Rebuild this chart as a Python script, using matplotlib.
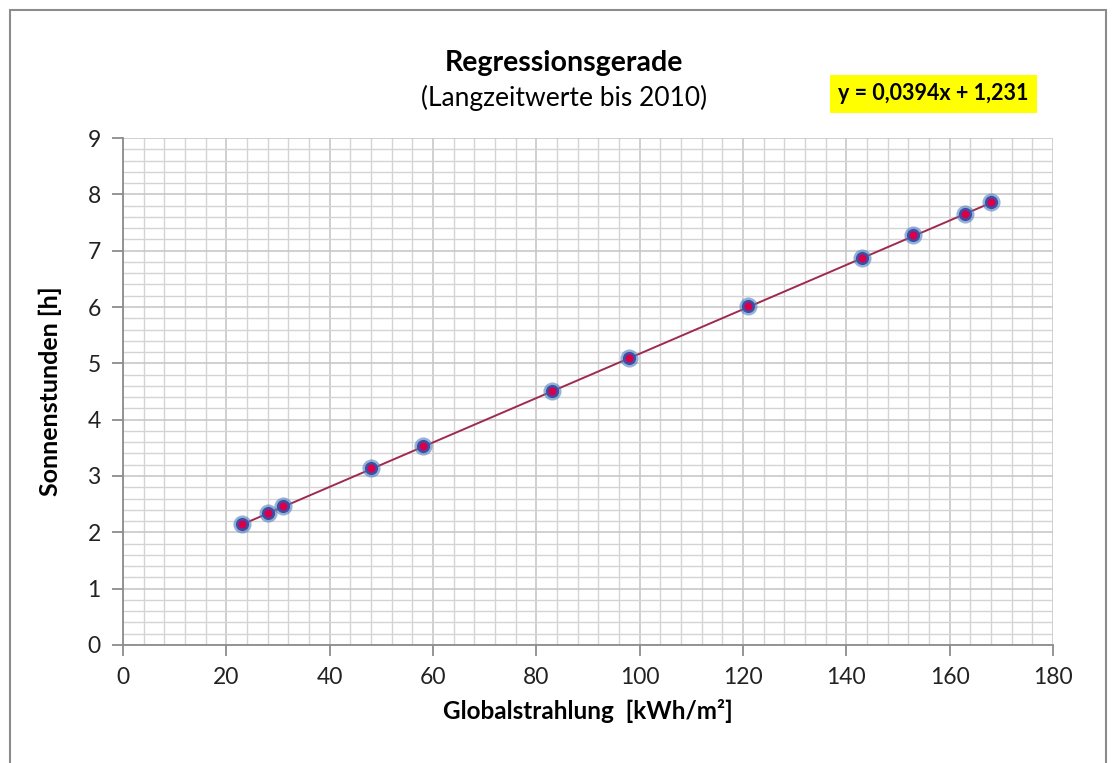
import numpy as np
import matplotlib.pyplot as plt
from matplotlib.patches import Rectangle
from matplotlib.ticker import MultipleLocator

strahlung = [23, 28, 31, 48, 58, 83, 98, 121, 143, 153, 163, 168]
sonnenstunden = [2.15, 2.34, 2.47, 3.14, 3.53, 4.50, 5.10, 6.01, 6.87, 7.27, 7.66, 7.86]
steigung = 0.0394
achsenabschnitt = 1.231

plt.rcParams['font.family'] = ['Lato', 'DejaVu Sans']

fig = plt.figure(figsize=(11.14, 7.63), dpi=100)
ax = fig.add_axes([0.1104, 0.1547, 0.8348, 0.6644])

# Rahmen um die ganze Grafik
fig.patches.append(Rectangle((0.009, -0.01), 0.984, 0.997, transform=fig.transFigure,
                             fill=False, edgecolor='#8c8c8c', linewidth=1.5))

# Regressionsgerade
xs = np.array([min(strahlung), max(strahlung)])
ax.plot(xs, steigung * xs + achsenabschnitt, color='#9e2a4e', linewidth=1.4, zorder=3)

# Punkte: blauer Rand, roter Kern
ax.scatter(strahlung, sonnenstunden, s=170, color='#4f81bd', alpha=0.6, linewidths=0, zorder=4)
ax.scatter(strahlung, sonnenstunden, s=90, color='#3b4fa8', linewidths=0, zorder=5)
ax.scatter(strahlung, sonnenstunden, s=34, color='#d8004a', linewidths=0, zorder=6)

ax.set_xlim(0, 180)
ax.set_ylim(0, 9)
ax.xaxis.set_major_locator(MultipleLocator(20))
ax.xaxis.set_minor_locator(MultipleLocator(4))
ax.yaxis.set_major_locator(MultipleLocator(1))
ax.yaxis.set_minor_locator(MultipleLocator(0.2))
ax.grid(which='major', color='#c8c8c8', linewidth=1.2)
ax.grid(which='minor', color='#d4d4d4', linewidth=1.0)
ax.set_axisbelow(True)

for s in ['top', 'right']:
    ax.spines[s].set_visible(False)
for s in ['left', 'bottom']:
    ax.spines[s].set_color('#8c8c8c')
    ax.spines[s].set_linewidth(1.3)

ax.tick_params(which='major', length=8, color='#8c8c8c', width=1.3, labelsize=16.5,
               labelcolor='#222222', pad=8)
ax.tick_params(which='minor', length=0)

ax.set_xlabel('Globalstrahlung  [kWh/m²]', fontsize=17.5, fontweight='bold', labelpad=8)
ax.set_ylabel('Sonnenstunden [h]', fontsize=18, fontweight='bold', labelpad=18)

fig.text(0.506, 0.917, 'Regressionsgerade', ha='center', va='center',
         fontsize=20.5, fontweight='bold')
fig.text(0.506, 0.872, '(Langzeitwerte bis 2010)', ha='center', va='center', fontsize=19)

fig.text(0.838, 0.877, 'y = 0,0394x + 1,231', ha='center', va='center',
         fontsize=15.5, fontweight='bold',
         bbox=dict(boxstyle='square,pad=0.4', facecolor='#ffff00', edgecolor='none'))

fig.savefig('out.png', dpi=100)
